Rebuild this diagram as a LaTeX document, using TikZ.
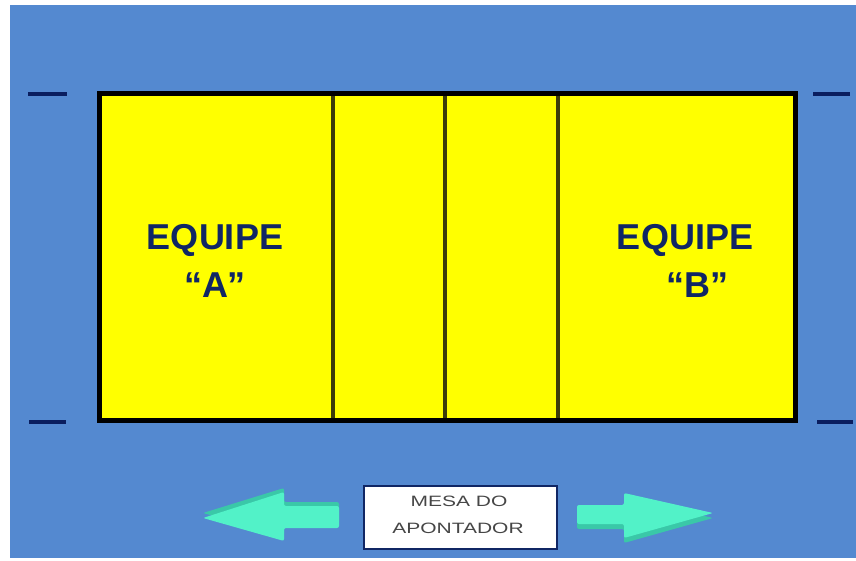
\documentclass[tikz,border=0pt]{standalone}
\usepackage{fontspec}
\setmainfont{Liberation Sans}
\definecolor{bgblue}{RGB}{84,137,208}
\definecolor{courtyellow}{RGB}{255,255,0}
\definecolor{navy}{RGB}{16,38,100}
\definecolor{dashnavy}{RGB}{10,30,95}
\definecolor{tealL}{RGB}{82,242,200}
\definecolor{tealD}{RGB}{58,200,168}
\definecolor{boxtext}{RGB}{70,70,70}
\definecolor{courtline}{RGB}{60,60,10}
\tikzset{
  team/.style={font=\fontsize{36}{38}\selectfont\bfseries, text=navy, align=center, inner sep=0pt},
  postmark/.style={draw=dashnavy, line width=4pt},
  netline/.style={draw=courtline, line width=3.5pt},
  arrowface/.style={fill=tealL, rounded corners=2pt},
  arrowside/.style={fill=tealD, rounded corners=2pt},
  mesalabel/.style={text=boxtext, font=\fontsize{15}{17}\selectfont, xscale=1.4, inner sep=0pt},
}
\begin{document}
\begin{tikzpicture}[x=1pt,y=-1pt]
\useasboundingbox (0,0) rectangle (856,561);
\fill[white] (0,0) rectangle (856,561);
\fill[bgblue] (10,5) rectangle (856,558);
% court
\fill[courtyellow] (99,94) rectangle (795,420);
\draw[netline] (333,94) -- (333,420);
\draw[netline] (445,94) -- (445,420);
\draw[netline] (558,94) -- (558,420);
\draw[black, line width=5pt] (99,94) rectangle (795,420);
\node (court) at (447,257) {};
% post marks
\draw[postmark] (28,94) -- (67,94);
\draw[postmark] (29,422) -- (66,422);
\draw[postmark] (813,94) -- (850,94);
\draw[postmark] (817,422) -- (853,422);
% team labels
\node[team] (ea) at (215,240) {EQUIPE};
\node[team] (qa) at (215,285) {“A”};
\node[team] (eb) at (685,240) {EQUIPE};
\node[team] (qb) at (697,285) {“B”};
% scorer table
\node[draw=navy, line width=2.5pt, fill=white, minimum width=193pt, minimum height=63pt, inner sep=0pt] (mesa) at (460.5,517.5) {};
\node[mesalabel] (mesa1) at (459,501) {MESA DO};
\node[mesalabel] (mesa2) at (458,528) {APONTADOR};
% left arrow
\fill[arrowside] (203,513) -- (284,488) -- (284,502) -- (339,502) -- (339,524) -- (284,524) -- (284,536) -- cycle;
\fill[arrowface] (203,518) -- (284,492) -- (284,506) -- (339,506) -- (339,528) -- (284,528) -- (284,541) -- cycle;
% right arrow
\fill[arrowside] (713,518) -- (624,497) -- (624,509) -- (577,509) -- (577,529) -- (624,529) -- (624,543) -- cycle;
\fill[arrowface] (713,513) -- (624,493) -- (624,505) -- (577,505) -- (577,524) -- (624,524) -- (624,538) -- cycle;
\end{tikzpicture}
\end{document}
